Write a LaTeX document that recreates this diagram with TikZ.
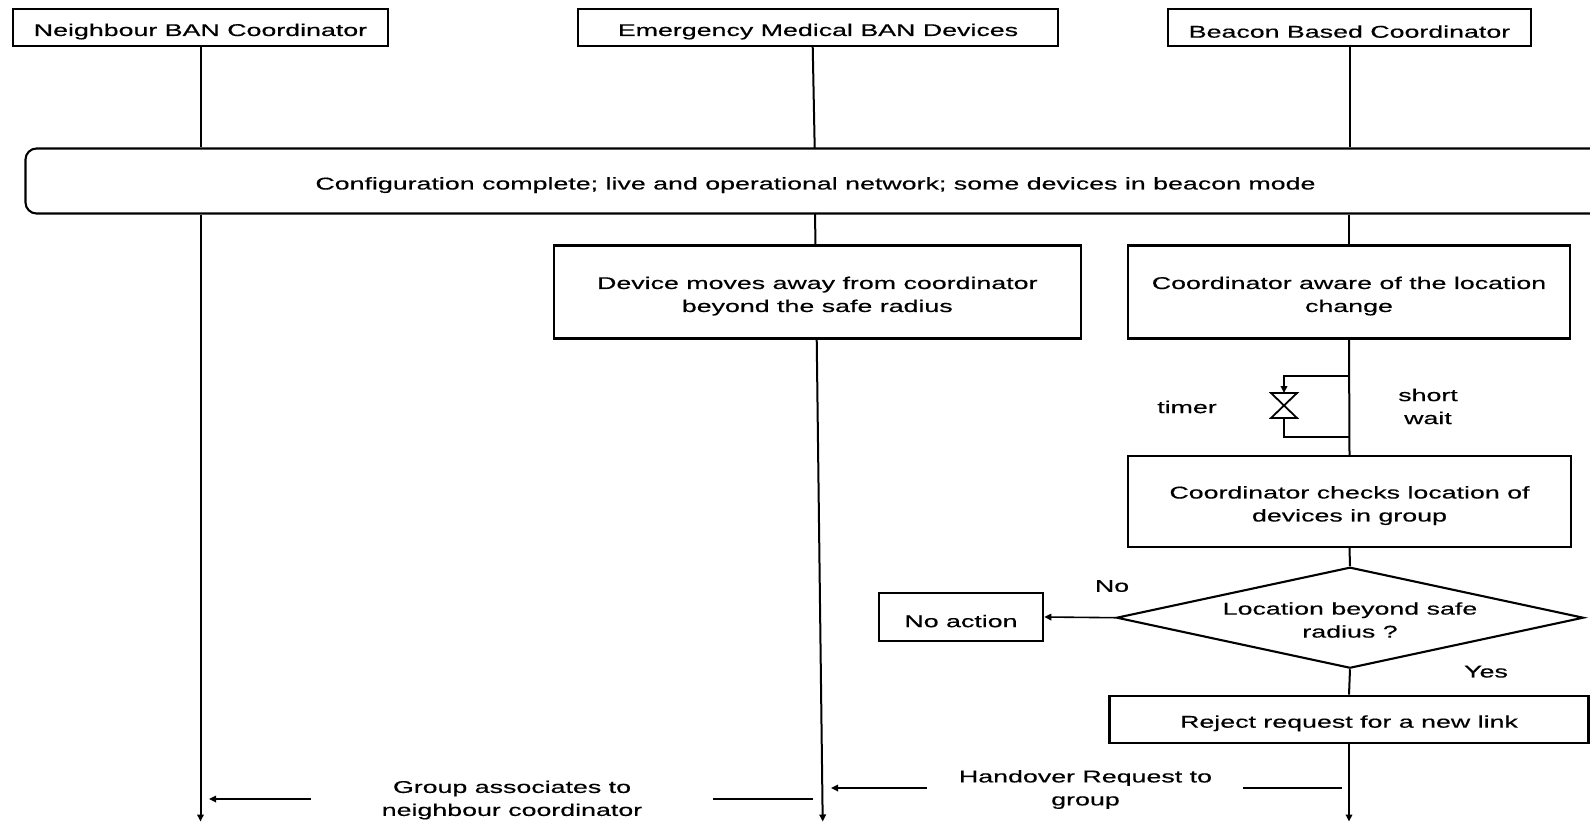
\documentclass[tikz,border=0pt]{standalone}
\usepackage{fontspec}
\setmainfont{Liberation Sans}[FakeStretch=1.575,FakeBold=0.4]
\usetikzlibrary{arrows.meta,shapes.geometric}
\newcommand\lowr{\rule{0pt}{20.5pt}}
\begin{document}
\begin{tikzpicture}[x=1pt,y=-1pt,
  every node/.style={font=\fontsize{17}{23}\selectfont, align=center, inner sep=0pt},
  box/.style={draw, line width=2.1pt},
  ln/.style={line width=2pt},
  msg/.style={line width=1.6pt},
  arr/.style={line width=2pt, -{Triangle[length=7pt,width=6.5pt]}},
  marr/.style={line width=1.6pt, -{Triangle[length=7pt,width=6.5pt]}}]
\useasboundingbox (0,0) rectangle (1590,822);

% headers
\node[box, minimum width=375pt, minimum height=37pt] (nb) at (200.5,27.5) {\lowr Neighbour BAN Coordinator};
\node[box, minimum width=480pt, minimum height=37pt] (em) at (818,27.5) {\lowr Emergency Medical BAN Devices};
\node[box, minimum width=363pt, minimum height=37pt] (bc) at (1349.5,27.5) {\lowr Beacon Based Coordinator};

% configuration banner
\node[box, rounded corners=11pt, minimum width=1580pt, minimum height=65pt] (cfg) at (815.5,181)
  {\lowr Configuration complete; live and operational network; some devices in beacon mode};

% process boxes
\node[box, minimum width=527pt, minimum height=93pt] (dev) at (817.3,292)
  {\lowr Device moves away from coordinator\\beyond the safe radius};
\node[box, minimum width=442pt, minimum height=93pt] (aw) at (1349,292)
  {\lowr Coordinator aware of the location\\change};
\node[box, minimum width=443pt, minimum height=91pt] (chk) at (1349.5,501.5)
  {\lowr Coordinator checks location of\\devices in group};
\node[draw, line width=2.1pt, shape=diamond, aspect=4.6, minimum width=467pt, minimum height=101pt] (dia) at (1350,617.7) {};
\node (diat) at (1350,620) {Location beyond safe\\radius ?};
\node[box, minimum width=164.5pt, minimum height=48pt] (na) at (961,617) {\lowr No action};
\node[box, minimum width=479pt, minimum height=47pt] (rej) at (1349,719.2) {\lowr Reject request for a new link};

% labels
\node (no) at (1112,586) {No};
\node (yes) at (1486,671.7) {Yes};
\node (timer) at (1187,407) {timer};
\node (sw) at (1428,406.5) {short\\wait};

% lifeline 1
\coordinate (l1end) at (200.5,821.5);
\draw[ln] (nb.south) -- (nb.south |- cfg.north);
\draw[arr] (nb.south |- cfg.south) -- (l1end);

% lifeline 2
\coordinate (l2a) at (812.7,46);
\coordinate (l2b) at (814.7,148.5);
\coordinate (l2c) at (815,213.5);
\coordinate (l2d) at (815.5,245.5);
\coordinate (l2e) at (816.7,338.5);
\coordinate (l2end) at (822.7,821.5);
\draw[ln] (l2a) -- (l2b);
\draw[ln] (l2c) -- (l2d);
\draw[arr] (l2e) -- (l2end);

% lifeline 3
\coordinate (l3end) at (1349,821.5);
\draw[ln] (bc.south) -- (bc.south |- cfg.north);
\draw[ln] (aw.south |- cfg.south) -- (aw.north);
\draw[ln] (aw.south) -- (chk.south |- chk.north);
\draw[ln] (chk.south) -- (dia.north);
\draw[ln] (dia.south) -- (rej.north);
\draw[arr] (rej.south) -- (l3end);

% timer loop
\coordinate (t1) at (1349,375.7);
\coordinate (t2) at (1349,436.7);
\coordinate (bwt) at (1284,393);
\coordinate (bwb) at (1284,418);
\draw[line width=1.8pt] (bwt) ++(-13,0) -- ++(26,0) -- ++(-26,25) -- ++(26,0) -- cycle;
\draw[arr] (t1) -| (bwt);
\draw[ln] (bwb) |- (t2);

% No branch
\draw[marr] (dia.west) -- (na.east);

% messages
\node (m1) at (512,800) {Group associates to\\neighbour coordinator};
\coordinate (m1a) at (310.7,799);
\coordinate (m1b) at (209,799);
\coordinate (m1c) at (713,799);
\coordinate (m1d) at (813,799);
\draw[marr] (m1a) -- (m1b);
\draw[msg] (m1c) -- (m1d);

\node (m2) at (1085.5,789.5) {Handover Request to\\group};
\coordinate (m2a) at (927,788);
\coordinate (m2b) at (831,788);
\coordinate (m2c) at (1243,788);
\coordinate (m2d) at (1342,788);
\draw[marr] (m2a) -- (m2b);
\draw[msg] (m2c) -- (m2d);
\end{tikzpicture}
\end{document}
